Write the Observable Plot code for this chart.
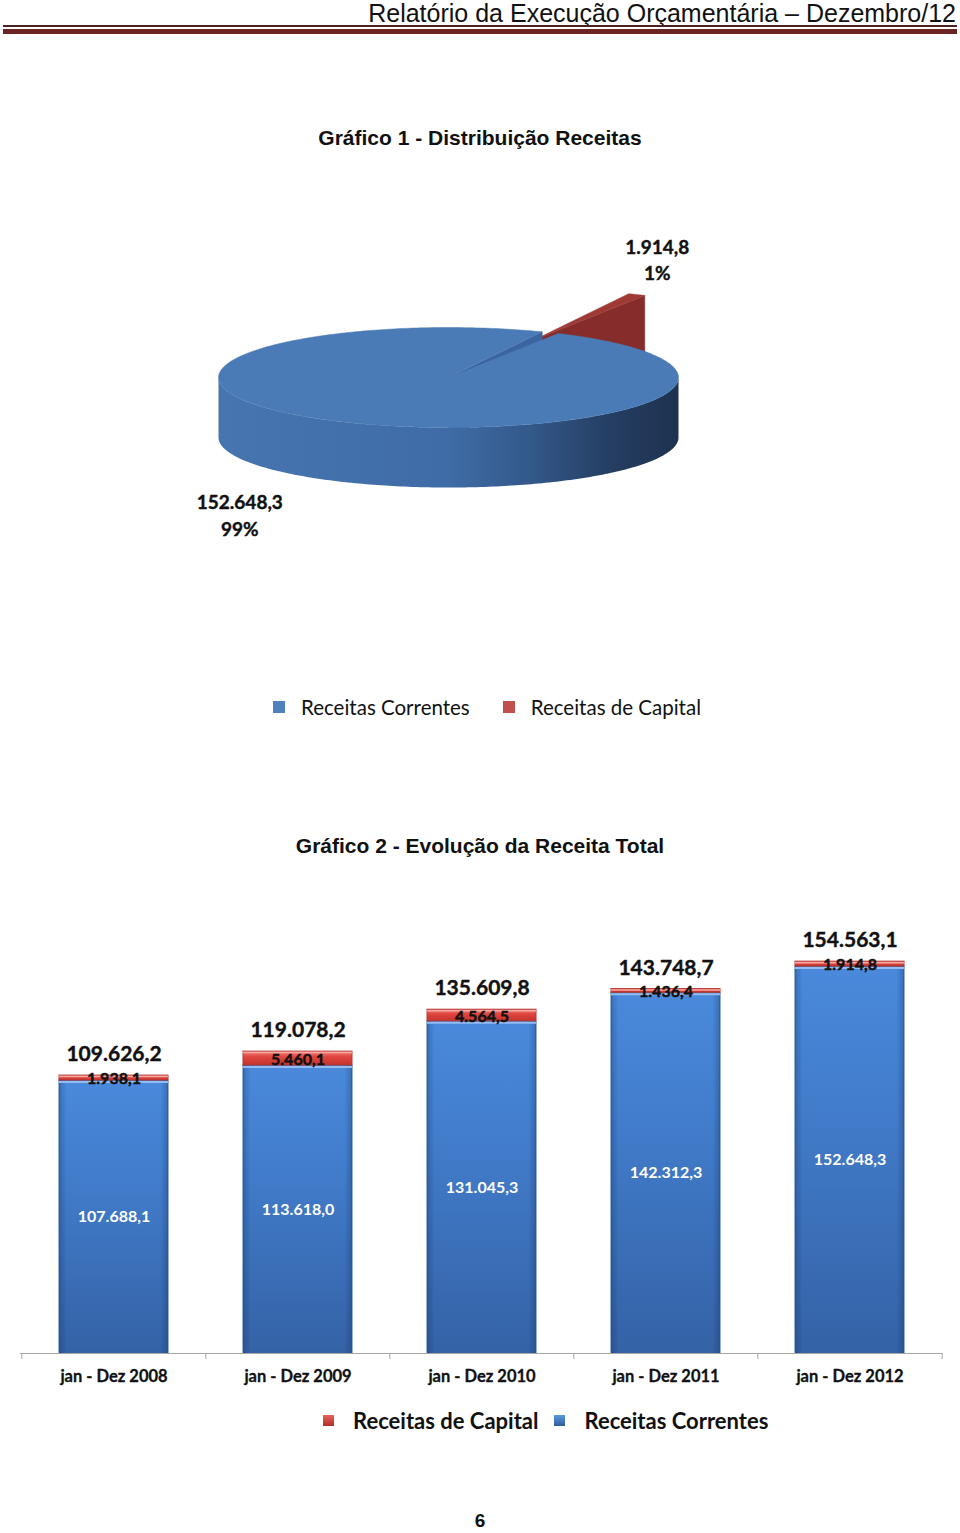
<!DOCTYPE html>
<html><head><meta charset="utf-8">
<script src="https://cdn.jsdelivr.net/npm/d3@7"></script>
<script src="https://cdn.jsdelivr.net/npm/@observablehq/plot@0.6"></script>
<style>
html,body{margin:0;padding:0;background:#fff;}
#page{position:relative;width:960px;height:1533px;overflow:hidden;font-family:"Liberation Sans",Arial,sans-serif;color:#111;}
.abs{position:absolute;white-space:nowrap;}
#hdr{right:4px;top:1px;font-size:25px;line-height:24px;}
#line1{left:3px;width:954px;top:25px;height:1.5px;background:#4a2222;}
#line2{left:3px;width:954px;top:29px;height:5px;background:#6b2424;}
.title{left:0;width:960px;text-align:center;font-weight:bold;font-size:21px;line-height:24px;}
.leg{display:flex;align-items:center;height:24px;}
.sw{display:inline-block;}
.num{left:0;width:960px;text-align:center;font-weight:bold;font-size:19px;line-height:14px;}
svg{overflow:visible;}
</style></head>
<body><div id="page">
<div id="hdr" class="abs">Relatório da Execução Orçamentária – Dezembro/12</div>
<div id="line1" class="abs"></div>
<div id="line2" class="abs"></div>
<div class="abs title" style="top:126px">Gráfico 1 - Distribuição Receitas</div>
<div id="pie" class="abs" style="left:0;top:200px"></div>
<div id="leg1" class="abs leg" style="left:273px;top:695px;font-family:Lato,sans-serif;font-size:20.5px;"></div>
<div class="abs title" style="top:834px">Gráfico 2 - Evolução da Receita Total</div>
<div id="bars" class="abs" style="left:0;top:900px"></div>
<div id="leg2" class="abs leg" style="left:323px;top:1408px;font-family:Lato,sans-serif;font-size:22px;font-weight:bold;"></div>
<div class="abs num" style="top:1514px">6</div>
</div>
<script>
// ---------- data ----------
const pieCategories = ["Receitas Correntes", "Receitas de Capital"];
const pieValues = [152648.3, 1914.8];

const barPeriods = ["jan - Dez 2008", "jan - Dez 2009", "jan - Dez 2010", "jan - Dez 2011", "jan - Dez 2012"];
const correntesValues = [107688.1, 113618.0, 131045.3, 142312.3, 152648.3];
const capitalValues = [1938.1, 5460.1, 4564.5, 1436.4, 1914.8];
const totalValues = [109626.2, 119078.2, 135609.8, 143748.7, 154563.1];
const barSeries = ["Receitas de Capital", "Receitas Correntes"];

// ---------- helpers ----------
const ptBR = d3.formatLocale({decimal: ",", thousands: ".", grouping: [3], currency: ["", ""]});
const fmt = ptBR.format(",.1f");
const NS = "http://www.w3.org/2000/svg";
function addDefs(svg, html) {
  const defs = document.createElementNS(NS, "defs");
  defs.innerHTML = html;
  svg.insertBefore(defs, svg.firstChild);
}

// ---------- pie (3D look) ----------
const DEG = Math.PI / 180;
const pieRotation = 28.5 * DEG;
const depth = 1.2;
const explodeBy = 0.85;
const pieTop = ["#4a7bb6", "#9e3936"];
const pieRadial = ["#3a65a0", "#862c2a"];

const arcs = d3.pie().sort(null).startAngle(pieRotation).endAngle(pieRotation + 2 * Math.PI)(pieValues);
const total = d3.sum(pieValues);

function pt(a, r, ox, oy, z) { return {x: ox + r * Math.sin(a), y: oy - r * Math.cos(a) + z}; }
function arcPts(a0, a1, ox, oy, z) {
  const n = Math.max(2, Math.ceil(Math.abs(a1 - a0) / DEG));
  return d3.range(n + 1).map(i => pt(a0 + (a1 - a0) * i / n, 1, ox, oy, z));
}
const backPolys = [], frontPolys = [];
const pieLabels = [];
arcs.forEach((a, i) => {
  const mid = (a.startAngle + a.endAngle) / 2;
  const ex = i === 1 ? explodeBy : 0;
  const ox = ex * Math.sin(mid), oy = -ex * Math.cos(mid);
  const list = i === 1 ? backPolys : frontPolys;
  const c = {x: ox, y: oy}, cb = {x: ox, y: oy + depth};
  if (Math.sin(a.endAngle) > 0) {
    const e = pt(a.endAngle, 1, ox, oy, 0), eb = pt(a.endAngle, 1, ox, oy, depth);
    list.push({pts: [c, e, eb, cb], fill: pieRadial[i]});
  }
  if (Math.sin(a.startAngle) < 0) {
    const e = pt(a.startAngle, 1, ox, oy, 0), eb = pt(a.startAngle, 1, ox, oy, depth);
    list.push({pts: [c, e, eb, cb], fill: pieRadial[i]});
  }
  for (const k of [0, 1]) {
    const s0 = Math.max(a.startAngle, Math.PI / 2 + 2 * Math.PI * k);
    const s1 = Math.min(a.endAngle, 3 * Math.PI / 2 + 2 * Math.PI * k);
    if (s1 > s0) list.push({pts: [...arcPts(s0, s1, ox, oy, 0), ...arcPts(s1, s0, ox, oy, depth)], fill: i === 0 ? "url(#pieSide)" : pieRadial[i]});
  }
  list.push({pts: [c, ...arcPts(a.startAngle, a.endAngle, ox, oy, 0)], fill: pieTop[i]});
  const front = Math.cos(mid) < 0;
  pieLabels.push({
    x: 2.05 * Math.sin(mid),
    y: -2.65 * Math.cos(mid) + (front ? 0.35 : 0),
    text: fmt(pieValues[i]) + "\n" + Math.round(pieValues[i] / total * 100) + "%"
  });
});

const piePlot = Plot.plot({
  width: 960, height: 360,
  margin: 0,
  x: {domain: [-1, 1], range: [218, 678], axis: null},
  y: {domain: [-1, 1], range: [127, 227], axis: null},
  marks: [
    ...[...backPolys, ...frontPolys].map(p => Plot.line(p.pts, {x: "x", y: "y", fill: p.fill, stroke: p.fill.startsWith("url") ? "none" : p.fill, strokeWidth: 0.5})),
    Plot.text(pieLabels, {x: "x", y: "y", text: "text", fontFamily: "Lato, sans-serif", fontWeight: "bold", fontSize: 19, lineHeight: 1.4, fill: "#111", stroke: "#111", strokeWidth: 0.4})
  ]
});
addDefs(piePlot, `<linearGradient id="pieSide" x1="0" x2="1" y1="0" y2="0">
  <stop offset="0" stop-color="#4675b0"/><stop offset="0.5" stop-color="#3f6ca6"/>
  <stop offset="0.68" stop-color="#33588a"/><stop offset="0.85" stop-color="#253e62"/>
  <stop offset="1" stop-color="#1e3250"/></linearGradient>`);
document.getElementById("pie").append(piePlot);

// legend 1
const leg1 = document.getElementById("leg1");
const pieLegColors = ["#4f81bd", "#c0504d"];
pieCategories.forEach((c, i) => {
  const s = document.createElement("span"); s.className = "sw";
  s.style.cssText = `width:12px;height:12px;background:${pieLegColors[i]};margin-right:16px;margin-left:${i ? 33 : 0}px`;
  const t = document.createElement("span"); t.textContent = c;
  leg1.append(s, t);
});

// ---------- bars ----------
const rows = barPeriods.map((p, i) => ({period: p, correntes: correntesValues[i], capital: capitalValues[i], total: totalValues[i]}));
const mL = 20, mR = 18;
const step = (960 - mL - mR) / barPeriods.length;
const font = "Lato, sans-serif";
const barPlot = Plot.plot({
  width: 960, height: 500,
  marginLeft: mL, marginRight: mR, marginTop: 20, marginBottom: 47,
  x: {domain: barPeriods, paddingInner: 0.41, paddingOuter: 0.205, axis: null},
  y: {domain: [0, 170800], axis: null},
  marks: [
    Plot.barY(rows, {x: "period", y1: 0, y2: "correntes", fill: "url(#barBlue)", stroke: "#3463a2", strokeWidth: 1}),
    Plot.barY(rows, {x: "period", y1: 0, y2: "correntes", fill: "url(#barEdge)"}),
    Plot.tickY(rows, {x: "period", y: "correntes", stroke: "#93bdf2", strokeWidth: 2, dy: 1.5}),
    Plot.barY(rows, {x: "period", y1: "correntes", y2: d => d.correntes + d.capital, fill: "url(#barRed)", stroke: "#b53630", strokeWidth: 1}),
    Plot.tickY(rows, {x: "period", y: d => d.correntes + d.capital, stroke: "#f6a9a3", strokeWidth: 1.5, dy: 1}),
    Plot.ruleY([0], {stroke: "#a6a6a6"}),
    Plot.ruleX(rows, {x: "period", y1: 0, y2: 0, dx: -step / 2, insetBottom: -6, stroke: "#a6a6a6"}),
    Plot.ruleX(rows.slice(-1), {x: "period", y1: 0, y2: 0, dx: step / 2, insetBottom: -6, stroke: "#a6a6a6"}),
    Plot.text(rows, {x: "period", y: d => d.correntes / 2, text: d => fmt(d.correntes), fill: "white", fontWeight: "bold", fontSize: 16, fontFamily: font}),
    Plot.text(rows, {x: "period", y: d => d.correntes + d.capital / 2, text: d => fmt(d.capital), fill: "#111", stroke: "#111", strokeWidth: 0.5, fontWeight: "bold", fontSize: 16, fontFamily: font, dy: 1}),
    Plot.text(rows, {x: "period", y: "total", text: d => fmt(d.total), fill: "#111", stroke: "#111", strokeWidth: 0.4, fontWeight: "bold", fontSize: 21, fontFamily: font, dy: -21}),
    Plot.text(rows, {x: "period", y: 0, text: "period", fill: "#111", stroke: "#111", strokeWidth: 0.3, fontWeight: "bold", fontSize: 16.5, fontFamily: font, dy: 23})
  ]
});
addDefs(barPlot, `<linearGradient id="barBlue" x1="0" x2="0" y1="0" y2="1">
   <stop offset="0" stop-color="#4a89db"/><stop offset="0.35" stop-color="#427dcc"/><stop offset="1" stop-color="#3462a6"/></linearGradient>
  <linearGradient id="barEdge" x1="0" x2="1" y1="0" y2="0">
   <stop offset="0" stop-color="#0a1e44" stop-opacity="0.25"/><stop offset="0.07" stop-color="#0a1e44" stop-opacity="0"/>
   <stop offset="0.93" stop-color="#0a1e44" stop-opacity="0"/><stop offset="1" stop-color="#0a1e44" stop-opacity="0.25"/></linearGradient>
  <linearGradient id="barRed" x1="0" x2="0" y1="0" y2="1">
   <stop offset="0" stop-color="#f3857d"/><stop offset="0.4" stop-color="#e0463f"/><stop offset="1" stop-color="#c4332d"/></linearGradient>`);
document.getElementById("bars").append(barPlot);

// legend 2
const leg2 = document.getElementById("leg2");
const barLegGrad = ["linear-gradient(#e8625b,#b0302b)", "linear-gradient(#5d98e0,#2f5d9c)"];
barSeries.forEach((c, i) => {
  const s = document.createElement("span"); s.className = "sw";
  s.style.cssText = `width:11px;height:11px;background:${barLegGrad[i]};margin-right:19px;margin-left:${i ? 16 : 0}px`;
  const t = document.createElement("span"); t.textContent = c;
  leg2.append(s, t);
});
</script>
</body></html>
